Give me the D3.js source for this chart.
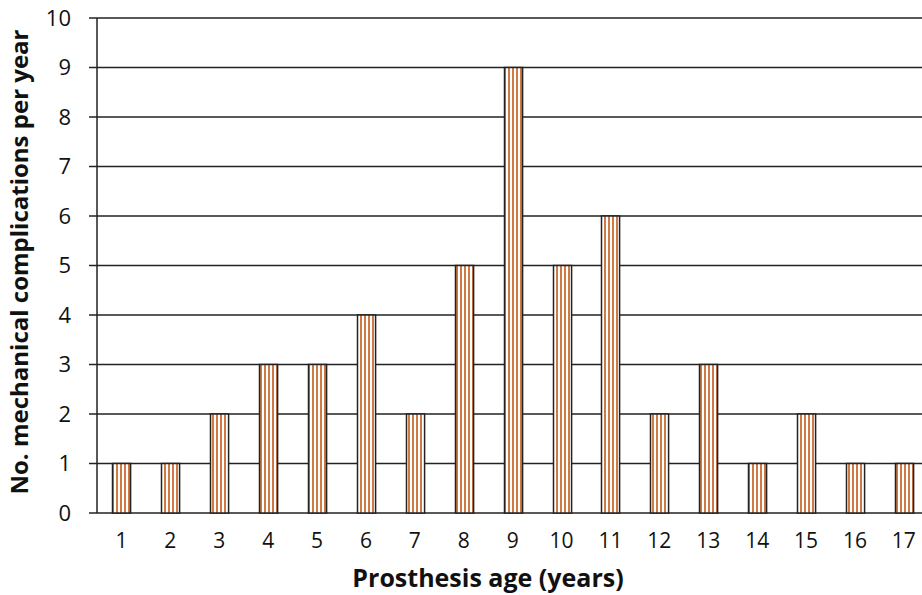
<!DOCTYPE html>
<html><head><meta charset="utf-8">
<script src="https://cdn.jsdelivr.net/npm/d3@7"></script>
<style>body{margin:0;background:#fff}svg{display:block}text{font-family:"Open Sans",sans-serif}</style>
</head><body><svg id="c" width="922" height="595"></svg>
<script>
const categories = ["1","2","3","4","5","6","7","8","9","10","11","12","13","14","15","16","17"];
const values = [1,1,2,3,3,4,2,5,9,5,6,2,3,1,2,1,1];
const yTicks = [0,1,2,3,4,5,6,7,8,9,10];

const svg = d3.select("#c");
const m = {left: 97, top: 18, bottom: 513};
const x = d3.scaleBand().domain(categories).range([m.left, m.left + 17*48.9]).paddingInner(0.63).paddingOuter(0.315);
const y = d3.scaleLinear().domain([0,10]).range([m.bottom, m.top]);

const defs = svg.append("defs");
const pat = defs.append("pattern").attr("id","stripes").attr("patternUnits","userSpaceOnUse")
  .attr("width",4).attr("height",10);
pat.append("rect").attr("width",4).attr("height",10).attr("fill","#fff");
pat.append("rect").attr("x",0).attr("width",2).attr("height",10).attr("fill","#cf7a45");

// grid
svg.append("g").selectAll("line").data(yTicks).join("line")
  .attr("x1", m.left - 8).attr("x2", 922)
  .attr("y1", d => y(d)).attr("y2", d => y(d))
  .attr("stroke", "#222").attr("stroke-width", 1.5);
svg.append("line").attr("x1", m.left).attr("x2", m.left).attr("y1", m.top).attr("y2", m.bottom)
  .attr("stroke","#222").attr("stroke-width",1.5);

// bars
svg.append("g").selectAll("rect").data(values).join("rect")
  .attr("x", (d,i) => Math.round(x(categories[i])) + 0.5)
  .attr("y", d => y(d))
  .attr("width", x.bandwidth())
  .attr("height", d => y(0) - y(d))
  .attr("fill", "url(#stripes)")
  .attr("stroke", "#222").attr("stroke-width", 1.5);

// y labels
svg.append("g").selectAll("text").data(yTicks).join("text")
  .attr("x", 71).attr("y", d => y(d)).attr("dy","0.36em")
  .attr("text-anchor","end").attr("font-size", 22).attr("fill","#111").text(d => d);

// x labels
svg.append("g").selectAll("text").data(categories).join("text")
  .attr("x", d => x(d) + x.bandwidth()/2).attr("y", 548)
  .attr("text-anchor","middle").attr("font-size", 21).attr("fill","#111").text(d => d);

svg.append("text").attr("x", 488).attr("y", 587).attr("text-anchor","middle")
  .attr("font-size", 25).attr("font-weight","bold").attr("fill","#111").text("Prosthesis age (years)");
svg.append("text").attr("transform","translate(28,262) rotate(-90)").attr("text-anchor","middle")
  .attr("font-size", 24).attr("font-weight","bold").attr("fill","#111").text("No. mechanical complications per year");
</script></body></html>
